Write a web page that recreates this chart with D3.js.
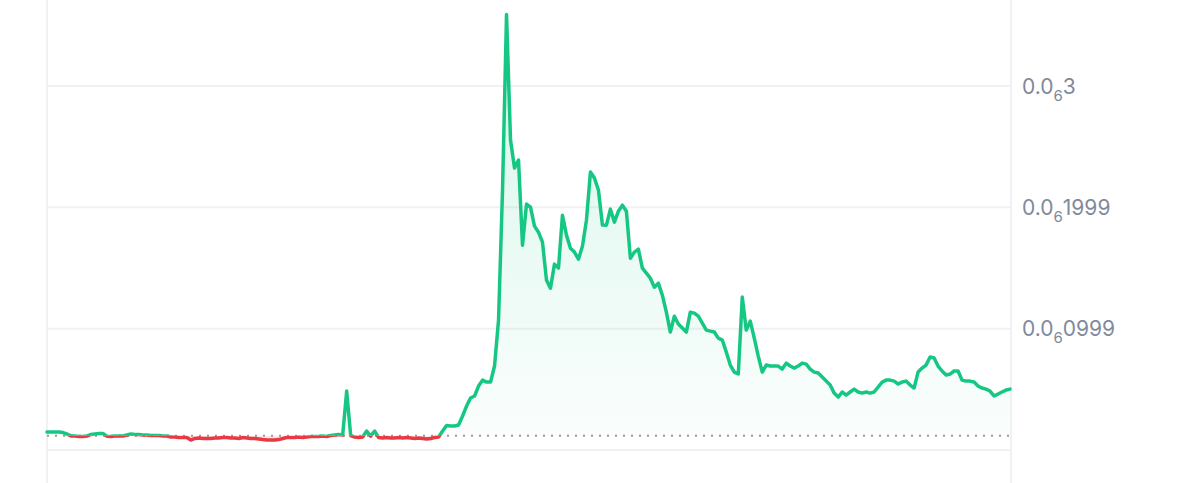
<!DOCTYPE html>
<html>
<head>
<meta charset="utf-8">
<script src="https://cdn.jsdelivr.net/npm/d3@7"></script>
<style>
html, body { margin: 0; padding: 0; background: #ffffff; overflow: hidden; }
svg { display: block; }
</style>
</head>
<body>
<svg id="chart" width="1200" height="483"></svg>
<script>
// Prices in units of 1e-9 (nano), one per equally spaced time step
const pricesPart1 = [14.8, 14.8, 14.8, 14.8, 14.4, 13.2, 11.6, 11.5, 11.1, 11.1, 11.5, 12.8, 13.2, 13.6, 13.6, 11.4, 11.1, 11.5, 11.6, 11.5,
  12.4, 13.2, 12.8, 12.8, 12.4, 12.4, 11.9, 11.9, 11.9, 11.5, 11.5, 10.7, 10.7, 10.3, 10.3, 10.3, 8.2, 9.5, 9.9, 9.5,
  9.5, 9.5, 9.9, 9.9, 10.3, 10.3, 9.9, 9.9, 9.5];
const pricesPart2 = [10.3, 9.9, 9.5, 9.5, 9.1, 8.6, 8.2, 8.2, 8.2, 8.6, 9.5, 10.3, 10.3, 10.3, 10.7, 10.3, 10.7, 11.1, 11.1, 11.1,
  11.5, 11.1, 11.9, 12.4, 12.8, 12.4, 48.6, 11.9, 10.7, 10.3, 10.7, 15.6, 11.5, 15.6, 10.3, 9.9, 10.3, 9.9, 9.9, 10.3,
  9.9, 10.3, 9.9, 9.5, 9.9, 9.5, 9.1, 9.5, 10.3, 10.7, 15.6, 20.2];
const pricesPart3 = [19.8, 19.8, 20.6, 28.0, 36.2, 42.8, 44.5, 52.7, 57.6, 56.0, 56.0, 69.2, 107.1, 214.3, 359.0, 255.5, 232.4, 239.0, 168.8, 202.7,
  200.1, 184.5, 179.5, 171.3, 140.0, 133.4, 153.2, 149.9, 193.5, 177.1, 166.3, 163.1, 157.3, 168.0, 189.4, 229.1, 224.2, 214.3, 185.4, 185.3,
  198.5, 187.8, 196.8, 201.8, 196.8, 158.1, 163.1, 165.5, 149.9, 145.8, 141.6, 134.2, 137.5, 127.6, 113.6, 97.2, 110.3, 103.8, 100.5, 97.2,
  113.6, 112.8, 110.3, 104.6, 98.8, 98.0, 97.2, 92.2, 90.6, 80.7, 70.0, 64.2, 62.6, 126.0, 98.8, 106.2, 92.2, 77.4, 64.2, 70.0,
  69.2, 69.2, 69.2, 66.7, 71.6, 69.2, 67.5, 69.2, 71.6, 70.8, 66.7, 64.2, 63.4, 60.1, 56.8, 53.5, 46.9, 43.6, 47.8, 45.3,
  47.8, 50.2, 47.8, 46.9, 47.8, 46.9, 47.8, 51.9, 56.0, 57.6, 57.6, 56.8, 54.4, 56.0, 56.8, 53.5, 51.1, 64.2, 67.5, 70.0,
  76.6, 75.8, 69.2, 65.1, 61.8, 62.6, 65.1, 65.1, 57.6, 56.8, 56.8, 56.0, 52.7, 51.1, 50.2, 48.6, 44.5, 46.1, 47.8, 49.4, 50.2];
const prices = pricesPart1.concat(pricesPart2, pricesPart3);
const referencePrice = 11.8;      // dotted reference line (nano)
const priceUnit = 1e-9;

// Y axis ticks (nano) and their subscript-zero labels
const tickValues = [0, 100, 200, 300];
const tickLead   = ["", "0.0", "0.0", "0.0"];
const tickZeros  = ["", "6", "6", "6"];
const tickDigits = ["", "0999", "1999", "3"];

const W = 1200, H = 483;
const left = 47, right = 1011;
const green = "#16c784", red = "#ea3943";

const svg = d3.select("#chart");
const x = d3.scaleLinear().domain([0, prices.length - 1]).range([left, 1010]);
const y = d3.scaleLinear().domain([0, 300]).range([450, 86]);
const yBase = y(referencePrice);

const defs = svg.append("defs");
const grad = defs.append("linearGradient").attr("id", "gFill")
  .attr("gradientUnits", "userSpaceOnUse").attr("x1", 0).attr("x2", 0).attr("y1", 0).attr("y2", yBase);
grad.append("stop").attr("offset", 0).attr("stop-color", green).attr("stop-opacity", 0.18);
grad.append("stop").attr("offset", 1).attr("stop-color", green).attr("stop-opacity", 0.02);
defs.append("clipPath").attr("id", "above").append("rect")
  .attr("x", 0).attr("y", 0).attr("width", W).attr("height", yBase);
defs.append("clipPath").attr("id", "below").append("rect")
  .attr("x", 0).attr("y", yBase).attr("width", W).attr("height", H - yBase);

// grid
const grid = svg.append("g");
grid.selectAll("line.h").data(tickValues).join("line")
  .attr("x1", left).attr("x2", right)
  .attr("y1", d => y(d)).attr("y2", d => y(d))
  .attr("stroke", "#eff1f4").attr("stroke-width", 2);
grid.selectAll("line.v").data([left, right]).join("line")
  .attr("x1", d => d).attr("x2", d => d).attr("y1", 0).attr("y2", H)
  .attr("stroke", "#eff1f4").attr("stroke-width", 2);

// areas
const area = d3.area().x((d, i) => x(i)).y0(yBase).y1(d => y(d));
svg.append("path").datum(prices).attr("d", area)
  .attr("fill", "url(#gFill)").attr("clip-path", "url(#above)");
svg.append("path").datum(prices).attr("d", area)
  .attr("fill", red).attr("fill-opacity", 0.12).attr("clip-path", "url(#below)");

// reference dotted line
svg.append("line").attr("x1", left).attr("x2", 1010).attr("y1", yBase).attr("y2", yBase)
  .attr("stroke", "#9a9a9a").attr("stroke-width", 2).attr("stroke-dasharray", "2,6");

// price line
const line = d3.line().x((d, i) => x(i)).y(d => y(d));
svg.append("path").datum(prices).attr("d", line)
  .attr("fill", "none").attr("stroke", green).attr("stroke-width", 3.5)
  .attr("stroke-linejoin", "round").attr("stroke-linecap", "round")
  .attr("clip-path", "url(#above)");
svg.append("path").datum(prices).attr("d", line)
  .attr("fill", "none").attr("stroke", red).attr("stroke-width", 3.5)
  .attr("stroke-linejoin", "round").attr("stroke-linecap", "round")
  .attr("clip-path", "url(#below)");

// y labels
const labels = svg.append("g").attr("font-family", "Inter, 'Liberation Sans', Arial, sans-serif")
  .attr("fill", "#808a9d");
tickValues.forEach((v, i) => {
  if (!tickLead[i]) return;
  const t = labels.append("text").attr("x", 1022).attr("y", y(v) + 7.5).attr("font-size", 21);
  t.append("tspan").text(tickLead[i]);
  t.append("tspan").attr("font-size", 15).attr("dy", 7).text(tickZeros[i]);
  t.append("tspan").attr("dy", -7).text(tickDigits[i]);
});
</script>
</body>
</html>
